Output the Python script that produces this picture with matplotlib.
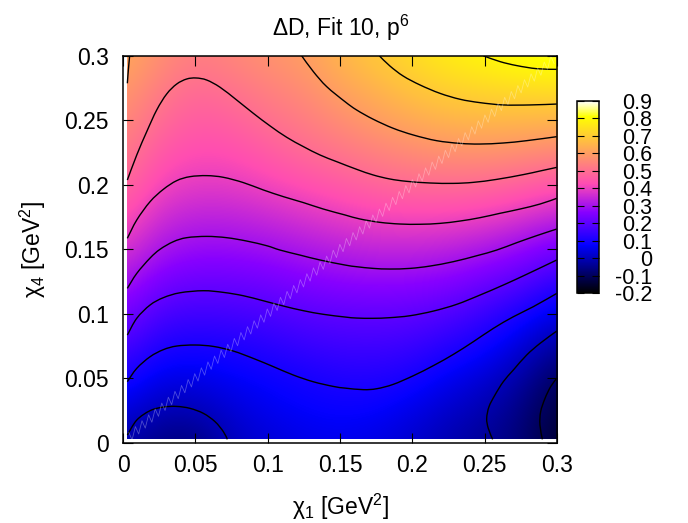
import numpy as np
import matplotlib
matplotlib.use('Agg')
import matplotlib.pyplot as plt
from matplotlib.colors import LinearSegmentedColormap
from matplotlib.patches import PathPatch, Rectangle
from matplotlib.path import Path

plt.rcParams['font.family'] = ['Liberation Sans', 'DejaVu Sans']
plt.rcParams['mathtext.fontset'] = 'custom'
plt.rcParams['mathtext.rm'] = 'Liberation Sans'
plt.rcParams['mathtext.it'] = 'Liberation Sans'
plt.rcParams['mathtext.bf'] = 'Liberation Sans'

# surface, rows are chi4, columns are chi1
chi1 = [0, .025, .05, .075, .1, .125, .15, .175, .2, .225, .25, .275, .3]
chi4 = [0, .025, .05, .075, .1, .125, .15, .175, .2, .225, .25, .275, .3]
delta_d = [
    [-.015, -.06, -.07, .005, .03, .05, .055, .045, .02, -.012, -.04, -.07, -.15],
    [.046, -.005, -.003, .032, .06, .072, .08, .075, .05, .018, -.01, -.06, -.13],
    [.108, .052, .05, .068, .08, .096, .113, .115, .098, .06, .03, -.02, -.10],
    [.176, .11, .099, .108, .125, .146, .158, .16, .15, .12, .088, .035, -.03],
    [.245, .172, .16, .165, .176, .195, .204, .209, .204, .184, .147, .10, .046],
    [.313, .238, .22, .222, .232, .253, .268, .274, .27, .258, .225, .193, .135],
    [.378, .306, .28, .282, .293, .312, .33, .342, .343, .333, .31, .278, .235],
    [.44, .358, .335, .337, .352, .373, .392, .41, .416, .413, .40, .374, .34],
    [.49, .41, .387, .39, .41, .433, .455, .48, .492, .496, .49, .47, .444],
    [.528, .45, .425, .43, .458, .49, .514, .54, .562, .575, .578, .568, .552],
    [.561, .493, .457, .47, .504, .53, .565, .60, .627, .65, .657, .655, .65],
    [.595, .53, .49, .51, .54, .565, .613, .648, .688, .717, .73, .743, .75],
    [.63, .57, .53, .55, .578, .60, .653, .696, .74, .775, .80, .825, .84],
]

# contour lines
m01_x = [.2899, .2882, .2887, .2917, .2956, .2998]
m01_y = [.0027, .0138, .0241, .0344, .0435, .05]
c00a_x = [.003, .0095, .0187, .0279, .0371, .0463, .0556, .0636, .0694, .0721]
c00a_y = [.006, .0176, .0249, .0277, .0282, .0267, .0228, .0164, .0086, .0027]
c00b_x = [.2555, .2525, .2514, .253, .2571, .2629, .2698, .279, .2883, .2998]
c00b_y = [.0027, .0112, .0189, .028, .037, .0474, .0564, .068, .0771, .0866]
c01_x = [.003, .0095, .0187, .0279, .0371, .0498, .0625, .0763, .0901, .104, .1178,
         .1316, .1454, .1535, .1661, .1753, .1868, .2007, .2145, .2283, .2422,
         .256, .2698, .2836, .2998]
c01_y = [.0474, .0577, .0667, .0722, .075, .0758, .0747, .0711, .0654, .059, .0525,
         .0473, .0437, .0424, .0412, .0419, .0453, .052, .0598, .0685, .0784,
         .0887, .0977, .1055, .1158]
c02_x = [.003, .0095, .0187, .0279, .0394, .0556, .0694, .0832, .097, .1109, .1247,
         .1385, .1535, .1615, .173, .1845, .1984, .2145, .2306, .2467, .2629, .279, .2998]
c02_y = [.0835, .0965, .1068, .1125, .1163, .1179, .1166, .114, .1101, .106, .1024,
         .0996, .0975, .0967, .0965, .097, .0985, .1021, .1073, .1145, .1223, .1306, .1417]
c03_x = [.003, .0095, .0187, .0256, .0348, .044, .0579, .0717, .0855, .0993, .1086,
         .1224, .1362, .1535, .1615, .173, .1845, .1984, .2122, .2283, .2445, .2583,
         .2721, .286, .2998]
c03_y = [.1197, .1313, .1432, .15, .1559, .159, .16, .159, .1564, .1528, .1494,
         .1455, .1417, .1378, .1365, .1352, .1347, .1352, .137, .1404, .145, .1494,
         .1551, .1606, .1657]
c04_x = [.003, .0095, .0187, .0279, .0371, .0463, .0579, .0694, .0832, .097, .1109,
         .1247, .1385, .1535, .1638, .1776, .1914, .2053, .2191, .2329, .2467, .2606,
         .2744, .2883, .2998]
c04_y = [.1585, .1727, .1869, .1965, .2032, .2063, .2071, .2058, .2017, .196, .1908,
         .1862, .1812, .1766, .1735, .1709, .1696, .1694, .1701, .1719, .1745, .1779,
         .1812, .1851, .1895]
c05_x = [.003, .0095, .0164, .0233, .0302, .0371, .044, .0505, .0579, .0671, .0786,
         .0901, .1017, .1132, .1247, .1362, .1478, .1615, .173, .1845, .196, .2122,
         .2283, .2422, .2583, .2767, .2883, .2998]
c05_y = [.2037, .2231, .2412, .258, .2704, .2781, .282, .2828, .2812, .2756, .2657,
         .2554, .2456, .2368, .2296, .2231, .2179, .212, .2076, .2045, .2027, .2014,
         .2011, .2019, .2042, .2079, .2107, .2135]
c06a_x = [.003, .0037, .0046]
c06a_y = [.2787, .289, .3]
c06b_x = [.1235, .1316, .1408, .1535, .1615, .173, .1868, .2007, .2168, .233, .2467,
          .2629, .279, .2998]
c06b_y = [.3, .2877, .2761, .2644, .258, .2508, .2438, .2386, .2342, .2321, .2316,
          .2324, .2342, .2373]
c07_x = [.1772, .1845, .1937, .2053, .2191, .233, .2467, .2629, .2814, .2998]
c07_y = [.3, .2921, .2843, .2774, .2709, .2663, .2637, .2619, .2619, .2626]
c08_x = [.2491, .2606, .2722, .286, .2998]
c08_y = [.3, .2955, .2924, .29, .2895]

contour_lines = [(m01_x, m01_y), (c00a_x, c00a_y), (c00b_x, c00b_y), (c01_x, c01_y),
                 (c02_x, c02_y), (c03_x, c03_y), (c04_x, c04_y), (c05_x, c05_y),
                 (c06a_x, c06a_y), (c06b_x, c06b_y), (c07_x, c07_y), (c08_x, c08_y)]

x_ticks = [0, .05, .1, .15, .2, .25, .3]
x_labels = ['0', '0.05', '0.1', '0.15', '0.2', '0.25', '0.3']
cb_ticks = [-.2, -.1, 0, .1, .2, .3, .4, .5, .6, .7, .8, .9]
cb_labels = ['-0.2', '-0.1', '0', '0.1', '0.2', '0.3', '0.4', '0.5', '0.6', '0.7', '0.8', '0.9']

# gnuplot palette black-blue-violet-yellow-white
palette = LinearSegmentedColormap.from_list('printable', [
    (0, (0, 0, 0)), (.244, (0, 0, .976)), (.25, (.02, 0, 1)), (.42, (.531, 0, 1)),
    (.57, (1, .3, .7)), (.92, (1, 1, 0)), (1, (1, 1, 1))], N=512)


def smooth_path(xs, ys):
    # catmull-rom handles so the traced lines come out as beziers
    pts = np.column_stack([xs, ys])
    ends = np.vstack([pts[0], pts, pts[-1]])
    verts = [pts[0]]
    codes = [Path.MOVETO]
    for i in range(1, len(ends) - 2):
        verts += [ends[i] + (ends[i + 1] - ends[i - 1]) / 6,
                  ends[i + 1] - (ends[i + 2] - ends[i]) / 6, ends[i + 1]]
        codes += [Path.CURVE4] * 3
    return Path(verts, codes)


W, H = 688, 523
fig = plt.figure(figsize=(W / 100, H / 100), dpi=100)
ax = fig.add_axes([123 / W, 1 - 442.8 / H, 434 / W, 387 / H])

step = .0125
im = ax.imshow(delta_d, origin='lower', cmap=palette, vmin=-.2, vmax=.9,
               extent=(-step, .3 + step, -step, .3 + step), interpolation='bicubic')
ax.set_aspect('auto')
ax.set_xlim(0, .3)
ax.set_ylim(0, .3)
im.set_clip_path(Rectangle((.0027, .0027), .2973, .2973, transform=ax.transData))

for xs, ys in contour_lines:
    ax.add_patch(PathPatch(smooth_path(xs, ys), fc='none', ec='black', lw=1.0))

# rendering seam along the diagonal of the map
seam = np.linspace(.004, .298, 130)
teeth = np.where(np.arange(130) % 2 == 0, .004, -.004)
ax.plot(seam, seam + teeth, color='white', lw=.6, alpha=.3)

ax.set_xticks(x_ticks)
ax.set_xticklabels(x_labels)
ax.set_yticks(x_ticks)
ax.set_yticklabels(x_labels)
ax.tick_params(direction='in', top=True, right=True, length=7, width=.8, labelsize=16.5)
ax.tick_params(axis='x', pad=8)
ax.tick_params(axis='y', pad=10)
for s in ax.spines.values():
    s.set_linewidth(1.1)

fig.text(341 / W, 1 - 28 / H, '$\\mathrm{\\Delta}$D, Fit 10, p$^6$', ha='center', va='center', fontsize=16.5)
fig.text(340 / W, 1 - 507 / H, '$\\mathrm{\\chi}_1$ [GeV$^2$]', ha='center', va='center', fontsize=16.5)
fig.text(33 / W, 1 - 250 / H, '$\\mathrm{\\chi}_4$ [GeV$^2$]', ha='center', va='center',
         rotation=90, fontsize=16.5)

cax = fig.add_axes([576.7 / W, 1 - 293 / H, 22.6 / W, 192 / H])
cb = fig.colorbar(im, cax=cax)
cb.set_ticks(cb_ticks)
cb.set_ticklabels(cb_labels)
cax.tick_params(direction='in', left=True, right=True, length=5, width=.8,
                labelsize=15.5, pad=38)
for t in cax.get_yticklabels():
    t.set_ha('right')
cb.outline.set_linewidth(1.1)

fig.savefig('out.png', dpi=100)
